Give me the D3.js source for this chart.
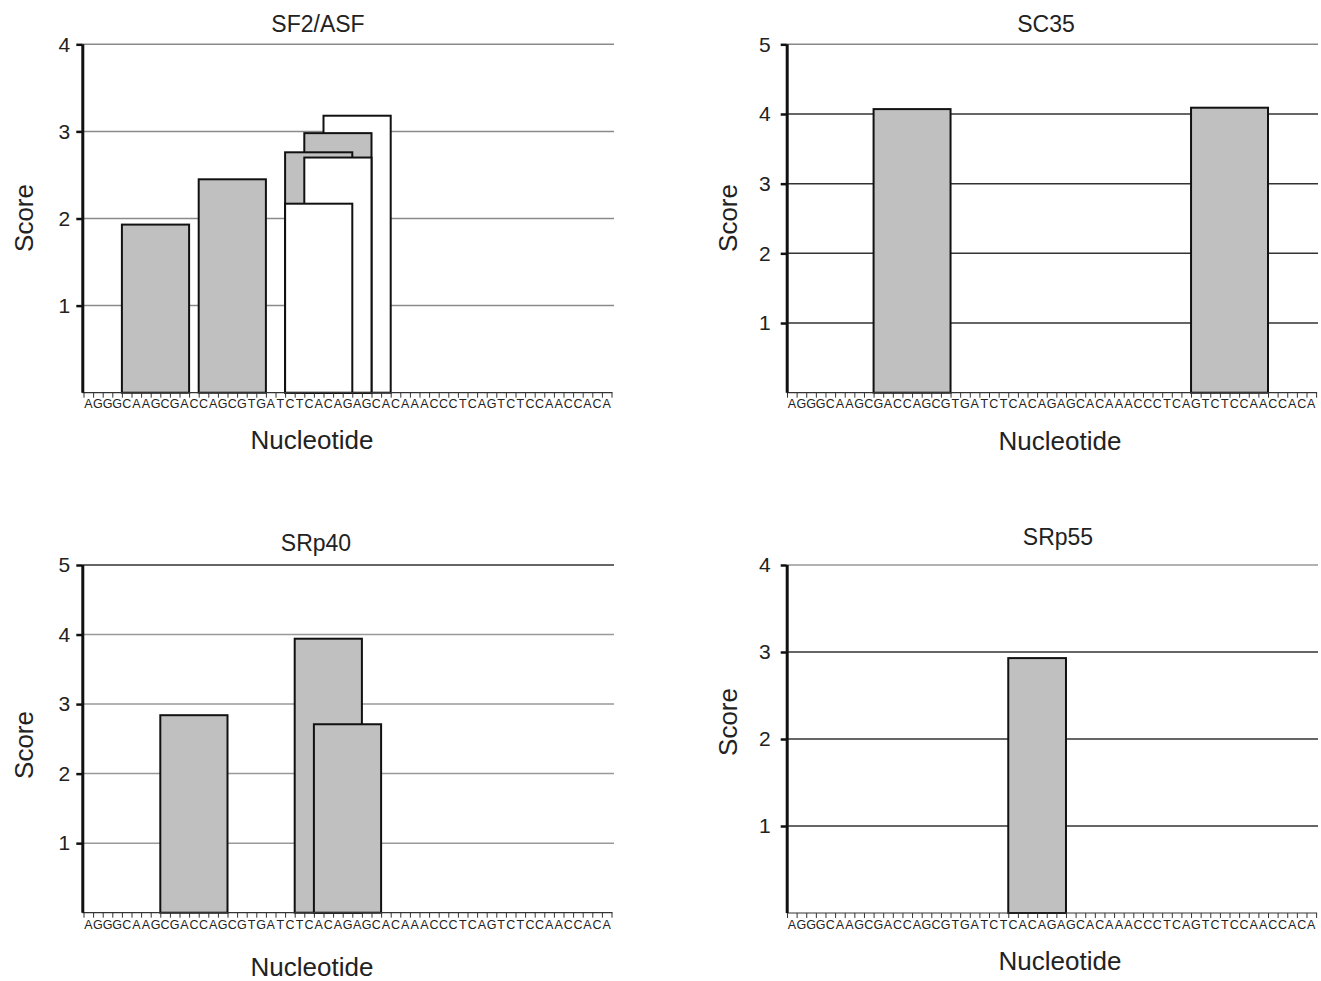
<!DOCTYPE html>
<html><head><meta charset="utf-8">
<script src="https://cdn.jsdelivr.net/npm/d3@7"></script>
<style>
body{margin:0;background:#fff;}
text{font-family:"Liberation Sans",Arial,sans-serif;fill:#222;}
</style></head>
<body><svg id="chart" width="1321" height="981"></svg>
<script>
// ---------- data ----------
const sequence = "AGGGCAAGCGACCAGCGTGATCTCACAGAGCACAAACCCTCAGTCTCCAACCACA".split("");
const panelTitles = ["SF2/ASF", "SC35", "SRp40", "SRp55"];
const yMax = [4, 5, 5, 4];
const yTicks = [[1,2,3,4],[1,2,3,4,5],[1,2,3,4,5],[1,2,3,4]];
const xLabel = "Nucleotide";
const yLabel = "Score";

// motif bars (start index in sequence, motif length, score, fill) in drawing order
const sf2Starts  = [4, 12, 25, 23, 21, 23, 21];
const sf2Lengths = [7, 7, 7, 7, 7, 7, 7];
const sf2Scores  = [1.93, 2.45, 3.18, 2.98, 2.76, 2.70, 2.17];
const sf2Fills   = ["grey","grey","white","grey","grey","white","white"];

const sc35Starts  = [9, 42];
const sc35Lengths = [8, 8];
const sc35Scores  = [4.07, 4.09];
const sc35Fills   = ["grey","grey"];

const srp40Starts  = [8, 22, 24];
const srp40Lengths = [7, 7, 7];
const srp40Scores  = [2.84, 3.94, 2.71];
const srp40Fills   = ["grey","grey","grey"];

const srp55Starts  = [23];
const srp55Lengths = [6];
const srp55Scores  = [2.93];
const srp55Fills   = ["grey"];

// ---------- layout ----------
const panels = [
  {axisX:82.3, x0:83.5, x1:611.5, gridEnd:614, top:44.3, bottom:392.7, titleX:318, titleY:32, nucX:312, nucY:449, scoreX:33, scoreY:218, letterY:408,
   gridColors:["#8a8a8a","#8a8a8a","#8a8a8a","#8a8a8a"],
   starts:sf2Starts, lengths:sf2Lengths, scores:sf2Scores, fills:sf2Fills},
  {axisX:786.7, x0:787, x1:1316.1, gridEnd:1318, top:44.3, bottom:392.7, titleX:1046, titleY:32, nucX:1060, nucY:450, scoreX:737, scoreY:218, letterY:408,
   gridColors:["#333","#333","#333","#333","#888"],
   starts:sc35Starts, lengths:sc35Lengths, scores:sc35Scores, fills:sc35Fills},
  {axisX:82.3, x0:83.5, x1:611.5, gridEnd:614, top:565, bottom:912.7, titleX:316, titleY:551, nucX:312, nucY:976, scoreX:33, scoreY:745, letterY:929,
   gridColors:["#999","#999","#999","#999","#333"],
   starts:srp40Starts, lengths:srp40Lengths, scores:srp40Scores, fills:srp40Fills},
  {axisX:786.7, x0:787, x1:1316.1, gridEnd:1318, top:565, bottom:913, titleX:1058, titleY:545, nucX:1060, nucY:970, scoreX:737, scoreY:722, letterY:929,
   gridColors:["#333","#333","#333","#999"],
   starts:srp55Starts, lengths:srp55Lengths, scores:srp55Scores, fills:srp55Fills}
];
const fillColor = {grey:"#c0c0c0", white:"#ffffff"};

const svg = d3.select("#chart");

panels.forEach((p, k) => {
  const g = svg.append("g");
  const x = d3.scaleLinear().domain([0, sequence.length]).range([p.x0, p.x1]);
  const y = d3.scaleLinear().domain([0, yMax[k]]).range([p.bottom, p.top]);

  // gridlines
  g.selectAll("line.grid").data(yTicks[k]).join("line")
    .attr("x1", p.axisX).attr("x2", p.gridEnd)
    .attr("y1", d => y(d)).attr("y2", d => y(d))
    .attr("stroke", (d,i) => p.gridColors[i]).attr("stroke-width", 1.5);

  // bars
  const bars = p.starts.map((s,i) => ({s, len:p.lengths[i], v:p.scores[i], f:p.fills[i]}));
  g.selectAll("rect.bar").data(bars).join("rect")
    .attr("x", d => x(d.s)).attr("width", d => x(d.s + d.len) - x(d.s))
    .attr("y", d => y(d.v)).attr("height", d => y(0) - y(d.v))
    .attr("fill", d => fillColor[d.f]).attr("stroke", "#111").attr("stroke-width", 2);

  // x axis with a tick between every nucleotide
  const xAxis = d3.axisBottom(x).tickValues(d3.range(sequence.length + 1)).tickSize(5).tickFormat("");
  const xg = g.append("g").attr("transform", `translate(0,${p.bottom})`).call(xAxis);
  xg.select(".domain").remove();
  xg.selectAll(".tick line").attr("stroke", "#333").attr("stroke-width", 1);
  g.append("line").attr("x1", p.axisX).attr("x2", p.x1 + 1).attr("y1", p.bottom).attr("y2", p.bottom)
    .attr("stroke", "#333").attr("stroke-width", 1.2);

  // nucleotide letters
  g.selectAll("text.nt").data(sequence).join("text")
    .attr("x", (d,i) => x(i + 0.5)).attr("y", p.letterY)
    .attr("text-anchor", "middle").style("font-size", "12.5px").text(d => d);

  // y axis
  const yAxis = d3.axisLeft(y).tickValues(yTicks[k]).tickSize(6).tickPadding(k % 2 ? 10 : 6).tickFormat(d3.format("d"));
  const yg = g.append("g").attr("transform", `translate(${p.axisX},0)`).call(yAxis);
  yg.select(".domain").attr("stroke", "#111").attr("stroke-width", 3).attr("d", `M0.5,${p.bottom}V${p.top}`);
  yg.selectAll(".tick line").attr("stroke", "#111").attr("stroke-width", 2.5);
  yg.selectAll(".tick text").style("font-size", "21px").attr("fill", "#222");

  // titles and axis labels
  g.append("text").attr("x", p.titleX).attr("y", p.titleY).attr("text-anchor", "middle")
    .style("font-size", "23px").text(panelTitles[k]);
  g.append("text").attr("x", p.nucX).attr("y", p.nucY).attr("text-anchor", "middle")
    .style("font-size", "26px").text(xLabel);
  g.append("text").attr("transform", `translate(${p.scoreX},${p.scoreY}) rotate(-90)`)
    .attr("text-anchor", "middle").style("font-size", "26px").text(yLabel);
});
</script></body></html>
